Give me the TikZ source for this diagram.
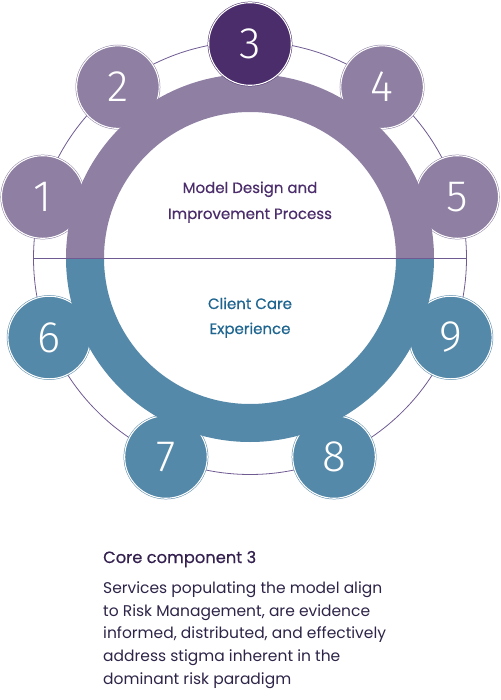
\documentclass[tikz,border=0pt]{standalone}
\usepackage{fontspec}
\setmainfont{Poppins}
\newfontfamily\numfont{Fira Sans Light}
\newfontfamily\midfont{Poppins}[FakeBold=0.5]
\definecolor{ringP}{HTML}{8E7FA3}
\definecolor{darkP}{HTML}{4B2D6B}
\definecolor{tealB}{HTML}{5589A9}
\definecolor{thinL}{HTML}{6F5B92}
\definecolor{titleP}{HTML}{4B2D6B}
\definecolor{titleB}{HTML}{1E6590}
\definecolor{headC}{HTML}{33204F}
\definecolor{bodyC}{HTML}{2E2448}
\tikzset{
  numfont/.style={text=white, font=\numfont\fontsize{44}{44}\selectfont},
  numcirc/.style={circle, minimum size=80pt, inner sep=0pt, numfont},
  ringcirc/.style={line width=0.5pt, double=white, double distance=1.1pt},
  midtext/.style={font=\midfont\fontsize{15}{15}\selectfont, anchor=base},
  bodytext/.style={anchor=base west, inner sep=0pt, text=bodyC, font=\fontsize{15.5}{15.5}\selectfont},
  thin/.style={draw=thinL, line width=0.8pt}
}
\begin{document}
\begin{tikzpicture}[x=1pt,y=-1pt]
\useasboundingbox (0,0) rectangle (500,700);
\coordinate (c) at (250,258);
% thin outer circle
\draw[thin] (c) circle[radius=216.5];
% circle positions
\coordinate (p1) at ([shift={(-163.6:216)}]c);
\coordinate (p2) at ([shift={(-127.7:216)}]c);
\coordinate (p3) at ([shift={(-90:214)}]c);
\coordinate (p4) at ([shift={(-52.3:216)}]c);
\coordinate (p5) at ([shift={(-16.4:216)}]c);
\coordinate (p6) at ([shift={(158.4:216)}]c);
\coordinate (p7) at ([shift={(112.9:216)}]c);
\coordinate (p8) at ([shift={(67.1:216)}]c);
\coordinate (p9) at ([shift={(21.6:216)}]c);
% outlined discs under the ring
\foreach \p in {p1,p2,p4,p5} {\filldraw[ringcirc, draw=ringP, fill=ringP] (\p) circle[radius=41.3];}
\foreach \p in {p6,p7,p8,p9} {\filldraw[ringcirc, draw=tealB, fill=tealB] (\p) circle[radius=41.3];}
% thick ring
\begin{scope}
  \clip (0,0) rectangle (500,258);
  \fill[ringP, even odd rule] (c) circle[radius=184] (c) circle[radius=146];
\end{scope}
\begin{scope}
  \clip (0,258) rectangle (500,500);
  \fill[tealB, even odd rule] (c) circle[radius=184] (c) circle[radius=146];
\end{scope}
% numbered discs over the ring
\node[numcirc, fill=ringP] (n1) at (p1) {1};
\node[numcirc, fill=ringP] (n2) at (p2) {2};
\node[numcirc, fill=ringP] (n4) at (p4) {4};
\node[numcirc, fill=ringP] (n5) at (p5) {5};
\node[numcirc, fill=tealB] (n6) at (p6) {6};
\node[numcirc, fill=tealB] (n7) at (p7) {7};
\node[numcirc, fill=tealB] (n8) at (p8) {8};
\node[numcirc, fill=tealB] (n9) at (p9) {9};
% horizontal divider
\coordinate (dl) at ([shift={(180:216.5)}]c);
\coordinate (dr) at ([shift={(0:216.5)}]c);
\draw[thin] (dl) -- (dr);
% highlighted circle 3
\node[numcirc, minimum size=82.6pt, fill=darkP, draw=darkP, ringcirc] (n3) at (p3) {3};
% centre titles
\node[midtext, text=titleP] (t1) at (250,193) {Model Design and};
\node[midtext, text=titleP] (t2) at (250,219) {Improvement Process};
\node[midtext, text=titleB] (t3) at (250,309) {Client Care};
\node[midtext, text=titleB] (t4) at (250,334) {Experience};
% bottom text
\node[anchor=base west, inner sep=0pt, text=headC, font=\midfont\fontsize{16.3}{16.3}\selectfont] (h) at (103,563) {Core component 3};
\node[bodytext] (b1) at (103,593) {Services populating the model align};
\node[bodytext] (b2) at (103,616) {to Risk Management, are evidence};
\node[bodytext] (b3) at (103,638.5) {informed, distributed, and effectively};
\node[bodytext] (b4) at (103,661.5) {address stigma inherent in the};
\node[bodytext] (b5) at (103,684) {dominant risk paradigm};
\end{tikzpicture}
\end{document}
